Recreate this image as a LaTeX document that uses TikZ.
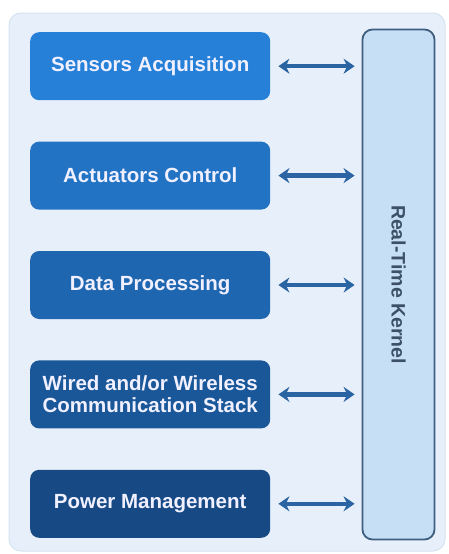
\documentclass[tikz,border=0pt]{standalone}
\usepackage{fontspec}
\setmainfont{Liberation Sans}
\usepackage{xcolor}
\usepackage{tikz}
\usetikzlibrary{arrows.meta,positioning}

\definecolor{panelbg}{HTML}{E7F0FA}
\definecolor{panelline}{HTML}{D5E3F1}
\definecolor{blkA}{HTML}{2680D8}
\definecolor{blkB}{HTML}{2273C4}
\definecolor{blkC}{HTML}{1F66B0}
\definecolor{blkD}{HTML}{1A5799}
\definecolor{blkE}{HTML}{174A85}
\definecolor{kernelbg}{HTML}{C6DFF5}
\definecolor{kernelline}{HTML}{3E5F80}
\definecolor{kerneltext}{HTML}{3D5166}
\definecolor{arrowcol}{HTML}{2B64A3}

\begin{document}
\begin{tikzpicture}[
  x=1pt, y=-1pt,
  font=\fontsize{20.5}{22.5}\selectfont\bfseries,
  node distance=41pt,
  block/.style={rounded corners=9pt,minimum width=240pt,minimum height=68pt,align=center,text=white!94!blue,inner sep=0pt},
  kernel/.style={draw=kernelline,line width=1.8pt,fill=kernelbg,rounded corners=10pt,text=kerneltext,rotate=-90,minimum width=510pt,minimum height=72pt,inner sep=0pt,font=\fontsize{19.5}{22}\selectfont\bfseries},
  arrow/.style={{Stealth[length=11pt,width=15pt]}-{Stealth[length=11pt,width=15pt]},line width=4.5pt,draw=arrowcol,shorten <=8pt,shorten >=7pt},
]
\useasboundingbox (0,0) rectangle (448,554);
\fill[panelbg,draw=panelline,line width=1pt,rounded corners=12pt] (9,13) rectangle (445,551);

\node[block,fill=blkA,anchor=north west] (sens) at (30,32) {Sensors Acquisition};
\node[block,fill=blkB,below=of sens] (act) {Actuators Control};
\node[block,fill=blkC,below=of act] (proc) {Data Processing};
\node[block,fill=blkD,below=of proc] (comm) {Wired and/or Wireless\\Communication Stack};
\node[block,fill=blkE,below=of comm] (pwr) {Power Management};

\node[kernel] (rtk) at (398.5,284.5) {Real-Time Kernel};

\foreach \b in {sens,act,proc,comm,pwr}
  \draw[arrow] (\b.east) -- (\b.east -| rtk.south);
\end{tikzpicture}
\end{document}
